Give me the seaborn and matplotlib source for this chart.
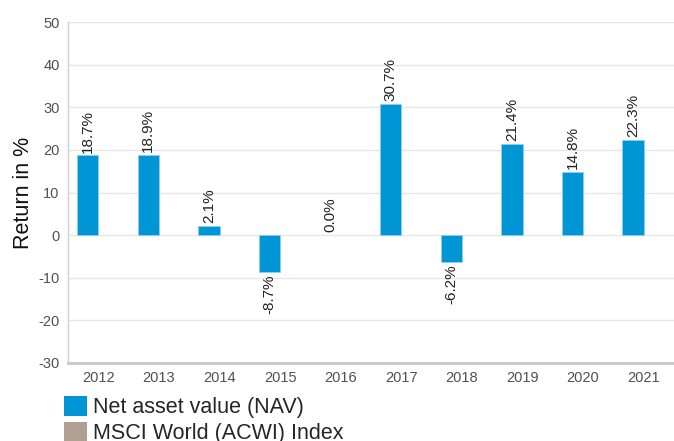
import matplotlib
matplotlib.use("Agg")
import matplotlib.pyplot as plt
from matplotlib.patches import Patch
import numpy as np
import pandas as pd
import seaborn as sns

years = ["2012", "2013", "2014", "2015", "2016", "2017", "2018", "2019", "2020", "2021"]
nav = [18.7, 18.9, 2.1, -8.7, 0.0, 30.7, -6.2, 21.4, 14.8, 22.3]
msci = [np.nan] * len(years)
series = ["Net asset value (NAV)", "MSCI World (ACWI) Index"]
colors = ["#0096D6", "#AFA091"]
yticks = [-30, -20, -10, 0, 10, 20, 30, 40, 50]

df = pd.DataFrame({
    "year": years * 2,
    "value": nav + msci,
    "series": [series[0]] * len(years) + [series[1]] * len(years),
})

sns.set_theme(style="white")
plt.rcParams["font.family"] = ["Liberation Sans", "DejaVu Sans"]
plt.rcParams["axes.unicode_minus"] = False

fig = plt.figure(figsize=(6.74, 4.41), dpi=100)
ax = fig.add_axes([68 / 674, 1 - 363 / 441, 1 - 68 / 674, (363 - 22) / 441])

sns.barplot(data=df, x="year", y="value", hue="series", hue_order=series,
            palette=colors, saturation=1, width=0.7, ax=ax, legend=False,
            edgecolor="#8fd0ee", linewidth=0.6, errorbar=None)

for p in ax.containers[0]:
    if p.get_height() == 0:
        p.set_linewidth(0)

ax.set_ylim(-30, 50)
ax.set_xlim(-0.5, 9.5)
ax.set_yticks(yticks)
ax.yaxis.grid(True, color="#e6e6e6", linewidth=1)
ax.set_axisbelow(True)
ax.xaxis.grid(False)
for s in ["top", "right"]:
    ax.spines[s].set_visible(False)
ax.spines["left"].set_color("#d0d0d0")
ax.spines["left"].set_linewidth(1)
ax.spines["bottom"].set_color("#c8c8c8")
ax.spines["bottom"].set_linewidth(2)
ax.tick_params(axis="both", length=0, labelsize=10.5, labelcolor="#505050")
ax.tick_params(axis="y", pad=6)
ax.tick_params(axis="x", pad=6)
ax.set_xlabel("")
ax.set_ylabel("Return in %", fontsize=15.5, color="#111111", labelpad=3)

ax.bar_label(ax.containers[0], fmt="%.1f%%", rotation=90, padding=2,
             fontsize=11, color="#222222")

handles = [Patch(facecolor=c, edgecolor="none") for c in colors]
fig.legend(handles, series, loc="upper left", bbox_to_anchor=(64 / 674, 1 - 396 / 441),
           frameon=False, fontsize=15.5, handlelength=1.05, handleheight=1.05,
           handletextpad=0.3, labelspacing=0.15, borderpad=0, borderaxespad=0)

fig.savefig("out.png", dpi=100)
